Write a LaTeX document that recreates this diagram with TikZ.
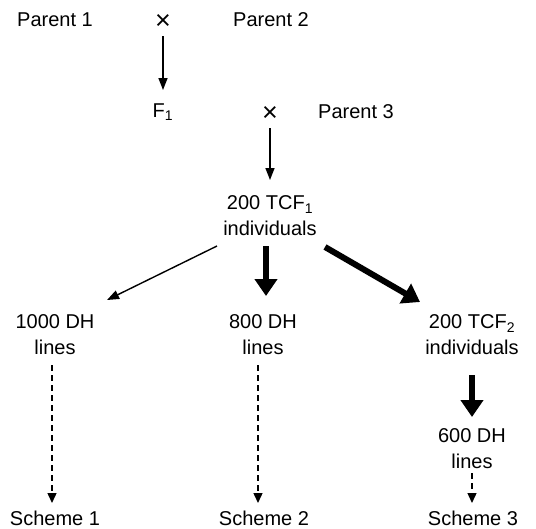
\documentclass[tikz,border=0pt]{standalone}
\usepackage{fontspec}
\setmainfont{Liberation Sans}
\usetikzlibrary{arrows.meta,calc}
\tikzset{
  lbl/.style={inner sep=0pt,align=center,font=\fontsize{20}{26}\selectfont},
  cross/.style={inner sep=0pt,font=\fontsize{27}{27}\selectfont},
  thinarrow/.style={line width=1.4pt,-{Triangle[length=12pt,width=9pt]}},
  thickarrow/.style={line width=6pt,-{Triangle[length=17pt,width=22pt]}},
  dasharrow/.style={line width=1.4pt,dash pattern=on 6pt off 4pt,-{Triangle[length=10pt,width=9pt]}}
}
\begin{document}
\begin{tikzpicture}[x=1pt,y=-1pt]
\useasboundingbox (0,0) rectangle (536,528);
\node[lbl] (p1) at (55,20) {Parent 1};
\node[cross] (x1) at (163,22) {×};
\node[lbl] (p2) at (271,20) {Parent 2};
\node[lbl] (f1) at (163,112) {F\textsubscript{1}};
\node[cross] (x2) at (270,114) {×};
\node[lbl] (p3) at (356,112) {Parent 3};
\node[lbl] (tcf1) at (270,216) {200 TCF\textsubscript{1}\\individuals};
\node[lbl] (dh1000) at (55,335) {1000 DH\\lines};
\node[lbl] (dh800) at (263,335) {800 DH\\lines};
\node[lbl] (tcf2) at (472,335) {200 TCF\textsubscript{2}\\individuals};
\node[lbl] (dh600) at (472,449) {600 DH\\lines};
\node[lbl] (s1) at (55,518) {Scheme 1};
\node[lbl] (s2) at (264,518) {Scheme 2};
\node[lbl] (s3) at (473,518) {Scheme 3};

\draw[thinarrow] ($(x1)+(0,14)$) -- ($(f1)+(0,-22)$);
\draw[thinarrow] ($(x2)+(0,14)$) -- ($(tcf1)+(0,-36)$);
\draw[thinarrow] ($(tcf1)+(-53,30)$) -- ($(dh1000)+(52,-35)$);
\draw[thickarrow] ($(tcf1)+(-4,30)$) -- ($(dh800)+(3,-39)$);
\draw[thickarrow] ($(tcf1)+(55,31)$) -- ($(tcf2)+(-52,-33)$);
\draw[dasharrow] ($(dh1000)+(-3,30)$) -- ($(s1)+(-3,-15)$);
\draw[dasharrow] ($(dh800)+(-5,30)$) -- ($(s2)+(-6,-15)$);
\draw[thickarrow] ($(tcf2)+(0,40)$) -- ($(dh600)+(0,-32)$);
\draw[dasharrow] ($(dh600)+(0,24)$) -- ($(s3)+(-1,-15)$);
\end{tikzpicture}
\end{document}
